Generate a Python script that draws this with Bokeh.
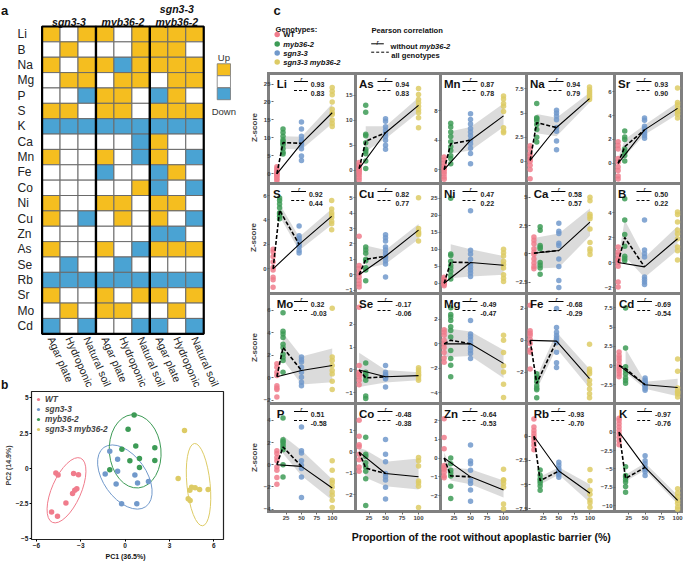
import numpy as np
from bokeh.plotting import figure
from bokeh.layouts import row, column
from bokeh.models import Range1d, FixedTicker
from bokeh.core.properties import value
from bokeh.embed import file_html
from bokeh.resources import INLINE

FONT = "Liberation Sans"

# ---------------- panel a : heatmap ----------------
ELEMENTS_A = ["Li", "B", "Na", "Mg", "P", "S", "K", "Ca", "Mn", "Fe", "Co", "Ni",
              "Cu", "Zn", "As", "Se", "Rb", "Sr", "Mo", "Cd"]
CONDITIONS = ["Agar plate", "Hydroponic", "Natural soil"]
GENOTYPE_GROUPS = ["sgn3-3", "myb36-2", "sgn3-3\nmyb36-2"]
# 1 = up, 0 = unchanged, -1 = down ; columns: sgn3-3 (A,H,S) | myb36-2 (A,H,S) | sgn3-3 myb36-2 (A,H,S)
HEAT = [
    [1, 0, 1, 1, 0, 1, 1, 1, 1],        # Li
    [0, 1, 0, 0, 0, 1, 1, 1, 0],        # B
    [1, 0, 1, 1, -1, 1, 1, 1, 1],       # Na
    [0, 1, 1, 0, 1, 1, 0, 1, 1],        # Mg
    [0, 0, -1, 1, 1, 0, -1, 1, 0],      # P
    [1, 1, 0, 1, 1, 0, 1, 1, 1],        # S
    [-1, -1, -1, -1, -1, -1, -1, -1, -1],  # K
    [0, 0, 0, 0, 0, -1, 1, 0, 0],       # Ca
    [1, 0, 0, 1, 0, -1, 1, 0, -1],      # Mn
    [0, 0, 0, -1, 0, 0, -1, 1, 0],      # Fe
    [0, 0, 0, 0, 0, 1, -1, 0, -1],      # Co
    [1, 0, 0, 1, 1, 0, 1, 1, 0],        # Ni
    [1, 0, -1, 0, 1, 0, 1, 0, -1],      # Cu
    [0, 0, 0, 0, 0, 0, -1, -1, 0],      # Zn
    [1, 0, 0, 1, 0, -1, 1, 1, 1],       # As
    [0, -1, 0, 0, -1, 0, 0, 0, 0],      # Se
    [-1, -1, -1, -1, -1, -1, -1, -1, -1],  # Rb
    [1, 0, 0, 1, 0, 1, 1, 0, 1],        # Sr
    [0, 1, 0, 1, 1, 0, 0, 1, 0],        # Mo
    [-1, 0, -1, 0, 0, -1, -1, 0, -1],   # Cd
]
HEAT_COLORS = {1: "#F5BE1F", 0: "#FFFFFF", -1: "#4AA3D3"}
HEAT_LEGEND = ["Up", "Down"]

# ---------------- panel b : PCA ----------------
PCA_GENOTYPES = ["WT", "sgn3-3", "myb36-2", "sgn3-3 myb36-2"]
PCA_COLORS = ["#F07C8C", "#7199CB", "#3D9B56", "#DDCB65"]
PC1 = [
    [-4.69, -4.54, -3.49, -3.16, -3.27, -3.41, -3.56, -4.01, -4.98, -4.58],
    [-1.04, -0.51, -1.35, -0.51, 0.66, -0.61, 0.84, 1.58, -0.24, 0.79],
    [0.61, 0.20, -0.22, 0.72, 2.01, 0.32, 0.97, 2.01, -1.04, 0.97],
    [4.02, 3.59, 4.50, 4.74, 5.04, 4.38, 5.62, 4.27, 4.40],
]
PC2 = [
    [-0.34, -0.49, -0.38, -0.47, -1.46, -1.57, -1.80, -2.47, -3.11, -3.42],
    [1.20, 0.64, -0.41, -0.22, -0.49, -1.12, -1.05, -0.95, -2.52, -2.52],
    [3.78, 2.77, 1.35, 1.58, 1.45, 0.52, 0.68, 0.54, -0.11, 0.05],
    [2.68, -0.74, -1.35, -1.39, -1.51, -1.57, -1.51, -2.18, -2.30],
]
# confidence ellipses: centre, full axes, angle (rad)
ELL_CX = [-3.97, -0.02, 0.68, 4.97]
ELL_CY = [-1.57, -0.63, 1.20, -1.17]
ELL_W = [4.75, 4.91, 4.98, 5.6]
ELL_H = [2.07, 3.05, 3.67, 1.65]
ELL_ANGLE = [1.155, -0.956, 1.66, 1.67]
PC1_TICKS = [-6, -3, 0, 3, 6]
PC2_TICKS = [-5.0, -2.5, 0, 2.5, 5.0]
PC1_LABEL = "PC1 (36.5%)"
PC2_LABEL = "PC2 (14.9%)"

# ---------------- panel c : Z-scores ----------------
ELEMENTS_C = ["Li", "As", "Mn", "Na", "Sr", "S", "Cu", "Ni", "Ca", "B",
              "Mo", "Se", "Mg", "Fe", "Cd", "P", "Co", "Zn", "Rb", "K"]
GENOTYPES_C = ["WT", "myb36-2", "sgn3-3", "sgn3-3 myb36-2"]
GENO_COLORS = ["#F07C8C", "#3D9B56", "#7199CB", "#DDCB65"]
GENO_X = [10, 20, 50, 100]   # proportion of root without apoplastic barrier (%)
X_TICKS = [25, 50, 75, 100]

WT_Z = [
    [2.0, 1.5, 1.0, 0.5, 0.2, 0.0, -0.3, -0.6, -1.0, -1.5, -1.9],
    [1.5, 1.0, 0.5, 0.2, 0.0, -0.3, -0.6, -1.0, -1.5, -2.0],
    [1.7, 1.3, 0.9, 0.5, 0.2, 0.0, -0.3, -0.6, -1.0, -1.3],
    [1.6, 1.3, 0.8, 0.5, 0.2, 0.0, -0.4, -0.85, -1.8],
    [1.8, 1.5, 1.2, 0.4, 0.1, -0.3, -0.6, -1.05, -1.3],
    [1.6, 1.4, 1.0, 0.55, 0.1, -0.1, -0.7, -0.9, -1.5],
    [2.5, 0.6, 0.4, 0.1, -0.15, -0.4, -0.6, -0.8],
    [1.8, 1.2, 0.8, 0.3, 0.0, -0.3, -0.7],
    [1.5, 1.2, 0.9, 0.45, 0.15, -0.06, -0.45, -0.8, -1.1, -1.3],
    [1.25, 0.85, 0.6, 0.3, 0.2, 0.0, -0.3, -1.55, -1.95],
    [1.25, 0.95, 0.5, 0.2, -0.7, -0.9, -1.05, -1.7],
    [2.75, 0.2, -0.1, -0.2, -0.3, -0.45, -0.65],
    [1.15, 0.95, 0.7, 0.3, 0.0, -0.3, -0.7, -1.15, -1.5],
    [2.2, 0.6, 0.45, 0.3, 0.05, -0.2, -0.6, -0.75, -1.8],
    [1.75, 1.3, 1.0, 0.65, 0.2, -0.15, -0.45, -0.75, -1.1, -1.45],
    [1.25, 1.0, 0.65, 0.35, -0.2, -0.5, -1.15, -1.75],
    [1.5, 0.75, 0.35, 0.25, -0.1, -0.35, -0.7, -0.9],
    [2.1, 1.1, 0.5, -0.4, -0.5, -0.6, -0.75, -0.95, -1.05],
    [1.8, 0.95, 0.6, 0.3, 0.0, -0.25, -0.6, -0.95, -1.4],
    [1.9, 1.6, 1.15, 0.7, 0.25, -0.2, -0.7, -1.2, -1.7],
]
MYB_Z = [
    [12.5, 11.5, 10.5, 9.5, 9.0, 8.5, 8.0, 7.0, 6.0, 5.5],
    [13.0, 11.6, 7.2, 6.9, 5.5, 4.2, 3.8, 3.3, 1.8, 0.3],
    [6.3, 5.8, 5.1, 4.5, 3.8, 3.1, 2.6, 1.9, 1.5, 0.8],
    [6.0, 4.5, 4.4, 4.2, 3.8, 3.3, 2.5, 2.0],
    [2.7, 2.2, 2.0, 1.2, 1.0, 0.9, 0.65, 0.2],
    [5.8, 5.6, 5.3, 5.0, 4.6, 4.5, 4.3, 4.1],
    [1.8, 1.6, 1.4, 1.0, 0.9, 0.45, 0.3, -0.4],
    [25.0, 8.6, 8.2, 6.5, 5.3, 4.5, 3.5, 2.3, 1.3],
    [2.4, 2.1, 0.75, 0.6, 0.45, -0.75, -1.0, -1.25, -1.8],
    [5.1, 3.4, 2.25, 1.3, 0.5, 0.3, 0.15],
    [5.8, 4.15, 3.9, 3.6, 3.0, 2.7, 2.1, 1.8, 1.55, 0.5],
    [0.3, -0.1, -0.2, -0.3, -0.45, -1.15, -1.25],
    [2.95, 2.4, 2.2, 1.9, 1.4, 1.1, 0.55, -0.55, -1.2, -1.75, -2.7],
    [-2.1, -2.3, -2.4, -2.6, -2.85, -3.0, -3.1, -3.6],
    [7.5, 2.3, -0.15, -0.65, -1.1, -1.6, -1.95, -2.3],
    [4.2, 2.25, 2.1, 1.95, 1.75, 1.55, 1.35, 0.0, -1.1],
    [0.7, -0.1, -0.2, -0.5, -0.7, -0.9, -1.25, -2.5],
    [0.0, -0.3, -0.65, -0.8, -0.95, -1.5, -2.15],
    [-3.5, -4.05, -4.4, -4.6, -4.85, -5.15, -5.6],
    [-4.7, -5.9, -6.1, -6.5, -6.8, -7.4, -8.2],
]
SGN_Z = [
    [14.4, 12.5, 10.5, 9.5, 9.0, 8.5, 8.0, 7.0, 5.0, 3.7],
    [10.3, 9.8, 8.7, 8.0, 7.4, 6.7, 6.0, 5.0, 4.2],
    [7.6, 6.8, 6.2, 5.6, 5.1, 4.6, 4.0, 3.5, 2.9, 2.2, 0.8],
    [5.3, 5.0, 4.7, 4.3, 3.5, 3.1, 2.1, 1.2],
    [3.8, 3.6, 3.1, 2.9, 2.7, 2.5, 2.3, 2.1],
    [3.5, 2.7, 2.5, 2.3, 2.0, 1.8, 1.5, 1.3],
    [2.6, 2.4, 2.2, 1.8, 1.6, 1.4, 1.2, 1.1, 0.9, 0.7, -0.15],
    [21.3, 9.7, 8.6, 7.1, 5.7, 4.8, 3.9, 3.0, 2.0],
    [2.7, 2.0, 1.8, 0.95, 0.75, -0.45, -1.1, -2.35, -2.95],
    [3.4, 1.0, 0.7, 0.45, -1.15, -1.35, -1.55, -1.75],
    [1.85, 1.6, 1.4, 0.95, 0.5, 0.05, -0.4, -0.7],
    [0.2, -0.1, -0.2, -0.25, -0.3, -0.35, -0.4, -0.75],
    [1.9, 0.8, 0.6, 0.35, 0.05, -0.3, -0.55, -0.8, -1.2],
    [2.0, 0.8, 0.5, 0.3, 0.15, 0.0, -0.15, -0.75, -1.4, -1.7],
    [-1.6, -1.9, -2.1, -2.3, -2.5, -2.6, -2.8, -3.0, -3.2],
    [3.4, 1.25, 1.05, 0.35, -0.05, -0.35, -1.1, -2.95],
    [0.6, -0.1, -0.45, -1.0, -1.15, -1.3, -1.65, -2.2],
    [0.7, -0.15, -0.3, -0.65, -1.2, -1.35, -1.7, -2.3],
    [-2.7, -3.0, -3.35, -3.6, -3.8, -4.0, -4.25],
    [-3.2, -3.9, -4.3, -4.8, -5.1, -5.4, -5.9],
]
DBL_Z = [
    [24.0, 23.0, 22.0, 20.0, 18.0, 17.0, 16.5, 15.0, 14.0, 13.2],
    [16.4, 15.2, 14.2, 13.5, 12.8, 12.1, 11.5, 10.5, 8.5],
    [10.0, 9.6, 9.0, 8.6, 7.9, 5.7, 5.2, 5.0],
    [7.7, 7.4, 7.2, 7.0, 6.8, 6.6, 6.4],
    [6.3, 5.1, 4.9, 4.6, 4.4, 4.3, 4.1, 3.8],
    [5.6, 4.9, 4.6, 4.4, 4.2, 3.9, 3.7, 3.2],
    [5.0, 3.0, 2.8, 2.7, 2.6, 2.2],
    [10.0, 9.0, 8.0, 6.5, 5.5, 4.5, 2.5, 1.5, 0.5],
    [5.0, 4.7, 3.5, 3.3, 3.1, 2.2, 1.0, 0.45, 0.25, -0.05],
    [4.05, 3.85, 3.25, 2.6, 2.3, 1.9, 1.25, 0.95, 0.2],
    [6.2, 1.85, 1.55, 1.1, 0.65, 0.35, -0.3, -1.05],
    [0.1, 0.0, -0.1, -0.2, -0.25, -0.35, -0.45],
    [0.7, 0.3, -0.7, -1.8, -2.3, -3.3, -4.4],
    [-0.25, -1.8, -1.95, -2.1, -2.5, -2.75, -3.05, -3.35, -3.6],
    [0.85, -0.75, -2.9, -3.35, -3.7, -4.1, -3.5],
    [0.35, -0.5, -1.4, -1.65, -2.0, -2.45, -2.75, -3.2, -3.85],
    [-0.25, -0.4, -0.65, -1.35, -1.45, -1.6, -2.6],
    [-0.6, -1.15, -1.2, -1.35, -1.55, -2.45, -2.7],
    [-3.45, -4.6, -5.6, -6.0, -6.6, -6.9, -7.35],
    [-7.7, -8.3, -8.8, -9.3, -9.7, -10.2, -10.5],
]
# line nodes (WT, myb36-2, sgn3-3, sgn3-3 myb36-2)
MEAN_WT = [0, 0.3, 0, 0.1, 0, 0, 0, 0, 0.06, 0, 0.1, 0, 0, 0, 0, 0, 0, 0, 0, 0]
MEAN_MYB = [8.7, 5.8, 3.5, 4.0, 1.4, 4.8, 1.0, 6.2, 0.15, 2.0, 2.7, -0.35, 0.3, -2.7, -0.4,
            1.6, -0.75, -0.95, -4.6, -6.3]
MEAN_SGN = [8.5, 7.5, 4.0, 3.5, 2.8, 2.0, 1.2, 6.1, 0.3, -0.35, 0.65, -0.3, 0.0, -0.05, -2.5,
            -0.15, -1.0, -1.0, -3.6, -4.8]
MEAN_DBL = [17.0, 13.0, 7.3, 6.5, 4.6, 4.3, 2.9, 5.3, 2.8, 1.9, 1.1, -0.25, -1.6, -2.4, -2.85,
            -2.1, -1.15, -1.7, -5.9, -9.3]
# grey confidence band (x nodes, lower, upper)
BAND_X = [[20, 50, 100], [20, 50, 100], [20, 50, 100], [20, 50, 100], [10, 20, 50, 100],
          [20, 50, 100], [20, 50, 100], [20, 50, 100], [10, 50, 100], [10, 20, 50, 100],
          [20, 50, 100], [10, 50, 100], [10, 50, 100], [20, 50, 100], [20, 50, 100],
          [20, 50, 100], [10, 20, 50, 100], [10, 20, 50, 100], [20, 50, 100], [20, 50, 100]]
BAND_LO = [[7.0, 6.8, 14.0], [3.8, 6.3, 11.6], [2.2, 2.6, 5.8], [2.9, 2.6, 6.1], [-0.2, 0.6, 2.4, 4.1],
           [4.3, 1.5, 3.6], [0.4, 0.7, 2.3], [1.5, 2.0, 2.5], [-1.3, -1.2, 1.6], [-0.3, 0.5, -1.2, 1.0],
           [1.6, -0.6, -0.4], [-0.75, -0.55, -0.45], [-1.1, -1.0, -2.8], [-3.1, -0.5, -3.0], [-0.9, -3.0, -4.0],
           [1.0, -1.0, -3.2], [-0.1, -1.2, -1.6, -1.75], [-0.3, -1.2, -1.4, -2.1], [-5.0, -4.0, -6.9], [-6.7, -5.2, -9.8]]
BAND_HI = [[10.5, 10.3, 19.5], [8.8, 8.8, 14.6], [5.2, 5.8, 9.0], [4.9, 4.5, 7.1], [0.4, 2.0, 3.2, 5.1],
           [5.3, 2.6, 4.9], [1.9, 1.6, 3.3], [11.5, 10.0, 8.0], [1.4, 1.8, 4.0], [0.3, 3.4, 0.4, 2.9],
           [4.0, 1.9, 2.6], [0.75, 0.0, -0.1], [1.3, 1.0, -0.5], [-2.3, 0.5, -1.8], [2.2, -2.1, -1.7],
           [2.6, 1.3, -1.3], [0.2, 0.1, -0.45, -0.3], [0.3, -0.5, -0.6, -1.2], [-4.2, -3.2, -5.0], [-5.8, -4.2, -8.6]]
R_WITHOUT = [0.93, 0.94, 0.87, 0.94, 0.93, 0.92, 0.82, 0.47, 0.58, 0.50,
             0.32, -0.17, -0.49, -0.68, -0.69, 0.51, -0.48, -0.64, -0.93, -0.97]
R_ALL = [0.83, 0.83, 0.78, 0.79, 0.90, 0.44, 0.77, 0.22, 0.57, 0.22,
         -0.03, -0.06, -0.47, -0.29, -0.54, -0.58, -0.38, -0.53, -0.70, -0.76]
Y_LIMS = [(-2.4, 28.2), (-2.5, 19.6), (-1.75, 13.2), (-2.2, 9.2), (-1.6, 7.6),
          (-1.94, 7.07), (-1.16, 6.0), (-2.7, 29.6), (-3.4, 6.3), (-2.4, 6.4),
          (-2.2, 7.6), (-1.43, 3.4), (-4.8, 4.2), (-3.9, 3.0), (-4.8, 9.5),
          (-4.3, 5.6), (-2.83, 2.33), (-2.9, 2.96), (-7.9, 3.5), (-10.95, 4.05)]
Y_TICKS = [[0, 5, 10, 15, 20, 25], [0, 5, 10, 15], [0, 4, 8], [0, 2.5, 5.0, 7.5], [0, 2, 4, 6],
           [0, 2, 4, 6], [-1, 0, 1, 2, 3, 4, 5], [0, 5, 10, 15, 20, 25], [-2.5, 0, 2.5, 5.0], [-2, 0, 2, 4],
           [-2, 0, 2, 4, 6], [-1, 0, 1, 2], [-4, -2, 0, 2], [-2, 0, 2], [-2.5, 0, 2.5, 5.0, 7.5],
           [-4, -2, 0, 2, 4], [-2, -1, 0, 1], [-2, -1, 0, 1, 2], [-7.5, -5.0, -2.5, 0], [-10, -7.5, -5.0, -2.5, 0]]
X_TITLE = "Proportion of the root without apoplastic barrier (%)"

# ---------------- helpers ----------------
LEFT_W = 246


def canvas(w, h, xr, yr):
    p = figure(width=w, height=h, x_range=xr, y_range=yr, output_backend="svg",
               toolbar_location=None, x_axis_location=None, y_axis_location=None, min_border=0,
               frame_align=False)
    p.grid.visible = False
    p.outline_line_color = None
    p.background_fill_color = None
    p.border_fill_color = None
    return p


def txt(p, x, y, t, size, style="normal", align="left", baseline="alphabetic", color="#111111", angle=0):
    p.text(x=x, y=y, text=t, text_font=value(FONT), text_font_size=size, text_font_style=style,
           text_align=align, text_baseline=baseline, text_color=color, angle=angle)


def hseg(p, x0, x1, y, dash="solid", width=1.0):
    p.line(x=[x0, x1], y=[y, y], line_color="black", line_width=width, line_dash=dash)


# ---------------- panel a ----------------
PA_H = 390
AX0, APX, AY_TOP, APY = -2.316, 17.96, 26.0, 15.365
NROW = len(ELEMENTS_A)
pa = canvas(LEFT_W, PA_H, Range1d(AX0, AX0 + LEFT_W / APX),
            Range1d(NROW - (PA_H - AY_TOP) / APY, NROW + AY_TOP / APY))
cx, cy, cc = [], [], []
for i, el in enumerate(ELEMENTS_A):
    for j in range(9):
        cx.append(j + 0.5)
        cy.append(NROW - 1 - i + 0.5)
        cc.append(HEAT_COLORS[HEAT[i][j]])
pa.rect(x=cx, y=cy, width=1, height=1, fill_color=cc, line_color="#6a6a6a", line_width=1)
pa.rect(x=[1.5, 4.5, 7.5], y=[NROW / 2] * 3, width=3, height=NROW, fill_color=None,
        line_color="black", line_width=2.2)
txt(pa, [-1.37] * NROW, [NROW - 1 - i + 0.5 for i in range(NROW)], ELEMENTS_A, "12px",
    baseline="middle", color="#222222")
txt(pa, [j + 0.5 for j in range(9)], [-0.22] * 9, CONDITIONS * 3, "10.6px", baseline="middle",
    angle=-1.16, color="#222222")
lines_last = [g.split("\n")[-1] for g in GENOTYPE_GROUPS]
txt(pa, [1.5, 4.5, 7.5], [NROW + 0.28] * 3, lines_last, "10.5px", "bold italic", "center")
firsts = [(k, g.split("\n")[0]) for k, g in enumerate(GENOTYPE_GROUPS) if "\n" in g]
txt(pa, [1.5 + 3 * k for k, _ in firsts], [NROW + 1.15] * len(firsts), [s for _, s in firsts],
    "10.5px", "bold italic", "center")
pa.rect(x=[10.12] * 3, y=[17.19, 16.41, 15.62], width=0.74, height=0.77,
        fill_color=[HEAT_COLORS[1], HEAT_COLORS[0], HEAT_COLORS[-1]], line_color="#777777", line_width=0.8)
txt(pa, [10.12, 10.12], [17.98, 14.47], HEAT_LEGEND, "9.5px", align="center", baseline="middle",
    color="#333333")
txt(pa, [AX0 + 0.03], [NROW + 1.04], ["a"], "13px", "bold")
txt(pa, [AX0 + 0.03], [NROW - (PA_H - 6 - AY_TOP) / APY], ["b"], "12px", "bold")

# ---------------- panel b ----------------
PB_H = 160
PB_BOTTOM = 11
pb = figure(width=LEFT_W, height=PB_H, x_range=Range1d(-6.34, 6.66), y_range=Range1d(-5.07, 5.45),
            output_backend="svg", toolbar_location=None, min_border_left=31, min_border_right=23,
            min_border_top=1, min_border_bottom=PB_BOTTOM, frame_align=False)
pb.grid.visible = False
pb.outline_line_color = "#222222"
pb.outline_line_width = 1.2
pb.background_fill_color = None
pb.border_fill_color = None
pb.xaxis.ticker = FixedTicker(ticks=PC1_TICKS)
pb.yaxis.ticker = FixedTicker(ticks=PC2_TICKS)
pb.yaxis.axis_label = PC2_LABEL
for ax in (pb.xaxis[0], pb.yaxis[0]):
    ax.axis_line_color = None
    ax.major_tick_out = 2
    ax.major_tick_in = 0
    ax.minor_tick_out = 0
    ax.minor_tick_in = 0
    ax.major_label_text_font = FONT
    ax.major_label_text_font_size = "6.5px"
    ax.major_label_text_font_style = "bold"
    ax.major_label_text_color = "#222222"
    ax.major_label_standoff = 1
    ax.axis_label_text_font = FONT
    ax.axis_label_text_font_size = "7px"
    ax.axis_label_text_font_style = "bold"
    ax.axis_label_standoff = 1
for g in range(4):
    pb.ellipse(x=[ELL_CX[g]], y=[ELL_CY[g]], width=[ELL_W[g]], height=[ELL_H[g]], angle=[ELL_ANGLE[g]],
               fill_color=None, line_color=PCA_COLORS[g], line_width=1)
for g in range(4):
    pb.scatter(x=PC1[g], y=PC2[g], size=5.5, fill_color=PCA_COLORS[g], line_color=None,
               legend_label=PCA_GENOTYPES[g])
lg = pb.legend[0]
lg.location = "top_left"
lg.margin = 3
lg.padding = 2
lg.spacing = 0
lg.glyph_width = 8
lg.glyph_height = 8
lg.label_height = 8
lg.label_standoff = 3
lg.label_text_font = FONT
lg.label_text_font_size = "8.3px"
lg.label_text_font_style = "bold italic"
lg.border_line_color = None
lg.background_fill_alpha = 0

PLAB_H = 562 - PA_H - PB_H
plab = canvas(LEFT_W, PLAB_H, Range1d(0, LEFT_W), Range1d(PLAB_H, 0))
txt(plab, [125], [PLAB_H / 2], [PC1_LABEL], "7px", "bold", "center", baseline="middle")

# ---------------- panel c ----------------
RIGHT_W = 437
pleg = canvas(RIGHT_W, 72, Range1d(0, RIGHT_W), Range1d(72, 0))
txt(pleg, [27], [10], ["c"], "13px", "bold")
txt(pleg, [29], [29], ["Genotypes:"], "7.6px", "bold")
leg_y = [34, 43.5, 52.5, 61.5]
pleg.scatter(x=[30.7] * 4, y=leg_y, size=5.5, fill_color=GENO_COLORS, line_color=None)
for k, gname in enumerate(GENOTYPES_C):
    txt(pleg, [36.7], [leg_y[k]], [gname], "7.6px", "bold" if gname == "WT" else "bold italic",
        baseline="middle")
txt(pleg, [125], [29.5], ["Pearson correlation"], "7.6px", "bold")
hseg(pleg, 124.7, 137.3, 43.3)
txt(pleg, [131], [41.5], ["r"], "6.5px", "italic", "center")
txt(pleg, [144], [46], ["without "], "7.6px", "bold")
txt(pleg, [173], [46], ["myb36-2"], "7.6px", "bold italic")
hseg(pleg, 124.7, 142.3, 51.7, dash="3 2")
txt(pleg, [144.7], [54.5], ["all genotypes"], "7.6px", "bold")

COL_FIG_W = [95, 85, 86, 85, 86]
COL_BORDER = [22, 14, 14, 14, 17]
FRAME_H = 110
XAX_H = 14
X_LO, PPU_X = 4.5, 0.66
GREY = "#808080"


def frame_styles(w, bl, fb, c, last_row):
    grad = f"linear-gradient({GREY}, {GREY})"
    x0 = bl - 1 if c == 0 else 0
    boxes = [(x0, 0, w - x0, 3), (bl - 1, 0, 3, fb)]
    if c == 4:
        boxes.append((w - 3, 0, 3, fb))
    if last_row:
        boxes.append((x0, fb - 2, w - x0, 3))
    return {"background-image": ", ".join([grad] * len(boxes)),
            "background-position": ", ".join(f"{b[0]}px {b[1]}px" for b in boxes),
            "background-size": ", ".join(f"{b[2]}px {b[3]}px" for b in boxes),
            "background-repeat": "no-repeat"}


rows_c = []
cur = []
for k, el in enumerate(ELEMENTS_C):
    r, c = divmod(k, 5)
    last = r == 3
    w, bl = COL_FIG_W[c], COL_BORDER[c]
    h = FRAME_H + (XAX_H if last else 0)
    pw = w - bl
    x_hi = X_LO + pw / PPU_X
    ylo, yhi = Y_LIMS[k]
    p = figure(width=w, height=h, x_range=Range1d(X_LO, x_hi), y_range=Range1d(ylo, yhi),
               output_backend="svg", toolbar_location=None,
               x_axis_location="below" if last else None, y_axis_location="left",
               min_border_left=bl, min_border_right=0, min_border_top=0,
               min_border_bottom=XAX_H if last else 0, frame_align=False,
               styles=frame_styles(w, bl, FRAME_H, c, last))
    p.grid.visible = False
    p.outline_line_color = None
    p.background_fill_color = None
    p.border_fill_color = None
    axes = [p.yaxis[0]] + ([p.xaxis[0]] if last else [])
    p.yaxis[0].ticker = FixedTicker(ticks=Y_TICKS[k])
    if last:
        p.xaxis[0].ticker = FixedTicker(ticks=X_TICKS)
    for ax in axes:
        ax.axis_line_color = None
        ax.major_tick_out = 2
        ax.major_tick_in = 0
        ax.minor_tick_out = 0
        ax.minor_tick_in = 0
        ax.major_tick_line_color = "#666666"
        ax.major_label_text_font = FONT
        ax.major_label_text_font_size = "6px"
        ax.major_label_text_font_style = "bold"
        ax.major_label_text_color = "#444444"
        ax.major_label_standoff = 1
    if c == 0:
        p.yaxis[0].axis_label = "Z-score"
        p.yaxis[0].axis_label_text_font = FONT
        p.yaxis[0].axis_label_text_font_size = "8px"
        p.yaxis[0].axis_label_text_font_style = "bold"
        p.yaxis[0].axis_label_standoff = 2

    ppy = FRAME_H / (yhi - ylo)

    def X(px):
        return X_LO + px / PPU_X

    def Y(py):
        return yhi - py / ppy

    p.varea(x=BAND_X[k], y1=BAND_LO[k], y2=BAND_HI[k], fill_color="#cfcfcf", fill_alpha=0.75)
    for g, vals in enumerate([WT_Z[k], MYB_Z[k], SGN_Z[k], DBL_Z[k]]):
        p.scatter(x=[GENO_X[g]] * len(vals), y=vals, size=5.5, fill_color=GENO_COLORS[g],
                  line_color=None, fill_alpha=0.85)
    p.line(x=[GENO_X[0], GENO_X[2], GENO_X[3]], y=[MEAN_WT[k], MEAN_SGN[k], MEAN_DBL[k]],
           line_color="black", line_width=1.1)
    p.line(x=[GENO_X[0], GENO_X[1], GENO_X[2]], y=[MEAN_WT[k], MEAN_MYB[k], MEAN_SGN[k]],
           line_color="black", line_width=1.6, line_dash="4 2")
    txt(p, [X(3.5)], [Y(11)], [el], "11.5px", "bold")
    hseg(p, X(22), X(37), Y(9))
    txt(p, [X(30)], [Y(7)], ["r"], "6.5px", "italic", "center")
    txt(p, [X(40)], [Y(11.5)], [f"{R_WITHOUT[k]:.2f}"], "7px", "bold", color="#222222")
    hseg(p, X(22), X(37), Y(18), dash="3 2")
    txt(p, [X(40)], [Y(20.5)], [f"{R_ALL[k]:.2f}"], "7px", "bold", color="#222222")
    cur.append(p)
    if c == 4:
        rows_c.append(row(*cur))
        cur = []

pxt = canvas(RIGHT_W, 36, Range1d(0, RIGHT_W), Range1d(36, 0))
txt(pxt, [234.8], [10], [X_TITLE], "10.5px", "bold", "center")

left = column(pa, pb, plab)
right = column(pleg, *rows_c, pxt)
root = row(left, right)

open("out.html", "w").write(file_html(root, INLINE))
